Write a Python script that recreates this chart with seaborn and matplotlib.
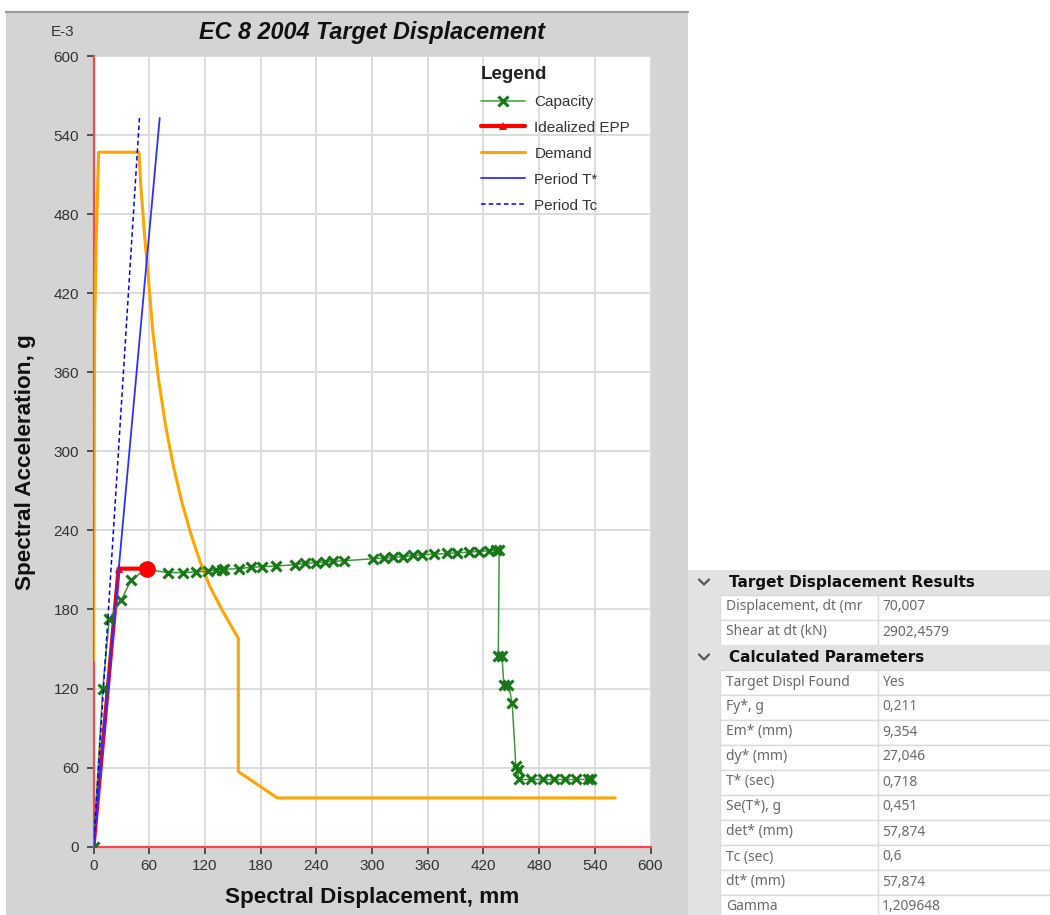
import matplotlib
matplotlib.use("Agg")
import matplotlib.pyplot as plt
import seaborn as sns
from matplotlib.patches import Rectangle
from matplotlib.lines import Line2D

# capacity curve: spectral displacement (mm) / spectral acceleration (E-3 g)
cap_sd = [0, 10, 17, 30, 40, 56, 80, 96, 110, 123, 132, 138, 141, 157, 170, 182, 197,
          217, 228, 240, 249, 258, 270, 301, 313, 323, 333, 344, 354, 367, 381, 392,
          404, 415, 426, 434, 437, 436, 440, 442, 447, 451, 455, 457, 458, 471, 484,
          496, 508, 520, 533, 536]
cap_sa = [0, 120, 173, 187, 202, 210.5, 208, 208, 208.5, 209, 210, 210, 210.5, 211, 212,
          212.5, 213, 214, 215, 215.5, 216, 216.5, 217, 218.5, 219, 219.5, 220, 221,
          221.5, 222, 222.5, 223, 223.5, 224, 224.5, 225, 225, 145, 145, 123, 123, 109,
          61, 58, 51, 51, 51, 51, 51, 51, 51, 51]

# idealized elasto-perfectly plastic curve
epp_sd = [0, 27.046, 57.874]
epp_sa = [0, 211, 211]

# demand spectrum (ADRS)
dem_sd = [0, 0.8, 1.3, 3, 4.5, 5.5, 49, 51, 55.5, 60.5, 64, 70, 78, 86, 95, 105, 115,
          125, 139, 156, 156, 198, 562]
dem_sa = [141, 300, 398, 462, 500, 527, 527, 501, 460, 420, 390, 355, 318, 289, 262,
          237, 216, 198, 179, 158, 57, 37, 37]

# period lines
tstar_sd = [0, 71.3]
tstar_sa = [0, 553]
tc_sd = [0, 49.5]
tc_sa = [0, 553]

ticks = list(range(0, 601, 60))

results_labels = ["Displacement, dt (mr", "Shear at dt (kN)"]
results_values = ["70,007", "2902,4579"]
params_labels = ["Target Displ Found", "Fy*, g", "Em* (mm)", "dy* (mm)", "T* (sec)",
                 "Se(T*), g", "det* (mm)", "Tc (sec)", "dt* (mm)", "Gamma"]
params_values = ["Yes", "0,211", "9,354", "27,046", "0,718", "0,451", "57,874", "0,6",
                 "57,874", "1,209648"]

sns.set_theme(style="whitegrid")
plt.rcParams['font.family'] = ['Liberation Sans', 'DejaVu Sans']

W, H = 1050, 915
fig = plt.figure(figsize=(W / 100, H / 100), dpi=100)
fig.patch.set_facecolor("white")

# background panel + table, in pixel coordinates
bg = fig.add_axes([0, 0, 1, 1])
bg.set_zorder(-1)
bg.set_xlim(0, W)
bg.set_ylim(H, 0)
bg.axis("off")
bg.add_patch(Rectangle((6, 11), 682, H - 11, fc="#d4d4d4", ec="none"))
bg.plot([6, 688], [11.5, 11.5], color="#9c9c9c", lw=1.6)

ax = fig.add_axes([93.5 / W, (H - 846.7) / H, 557 / W, 790.7 / H])
ax.set_facecolor("white")

sns.lineplot(x=dem_sd, y=dem_sa, sort=False, estimator=None, color="#ffa500",
             lw=2.2, label="Demand", ax=ax, zorder=3)
sns.lineplot(x=epp_sd, y=epp_sa, sort=False, estimator=None, color="#ff0000",
             lw=3, marker="^", markersize=6, markeredgewidth=0,
             label="Idealized EPP", ax=ax, zorder=4)
sns.lineplot(x=cap_sd, y=cap_sa, sort=False, estimator=None, color="#3c9c3c",
             lw=1.1, marker="x", markersize=7, markeredgewidth=2.2,
             markeredgecolor="#187818", label="Capacity", ax=ax, zorder=5)
sns.lineplot(x=tstar_sd, y=tstar_sa, sort=False, estimator=None, color="#2f2fff",
             lw=1.3, label="Period T*", ax=ax, zorder=6)
sns.lineplot(x=tc_sd, y=tc_sa, sort=False, estimator=None, color="#0000ff",
             lw=1.1, dashes=(3, 2), label="Period Tc", ax=ax, zorder=6)
ax.plot([epp_sd[-1]], [epp_sa[-1]], "o", color="#ff0000", markersize=11, zorder=7)

ax.set_xlim(0, 600)
ax.set_ylim(0, 600)
ax.set_xticks(ticks)
ax.set_yticks(ticks)
ax.grid(True, color="#dcdcdc", lw=1.4)
for s in ["top", "right"]:
    ax.spines[s].set_visible(False)
for s in ["left", "bottom"]:
    ax.spines[s].set_color("#ff4545")
    ax.spines[s].set_linewidth(1.6)
    ax.spines[s].set_zorder(2.5)
ax.tick_params(axis="both", length=5, width=1.3, color="#444444", labelsize=11,
               labelcolor="#333333", direction="out", left=True, bottom=True)
ax.tick_params(axis="y", pad=5.5)
ax.tick_params(axis="x", pad=4)

ax.set_xlabel("Spectral Displacement, mm", fontsize=16.2, fontweight="bold",
              color="#111111", va="center")
ax.set_ylabel("Spectral Acceleration, g", fontsize=16.2, fontweight="bold",
              color="#111111", va="center")
ax.xaxis.set_label_coords((372 - 93.5) / 557, -(897 - 846.7) / 790.7)
ax.yaxis.set_label_coords(-(93.5 - 26) / 557, (846.7 - 462) / 790.7)

fig.text(372 / W, 1 - 32 / H, "EC 8 2004 Target Displacement", ha="center",
         va="center", fontsize=16.8, fontweight="bold", fontstyle="italic",
         color="#111111")
fig.text(63 / W, 1 - 31.5 / H, "E-3", ha="center", va="center", fontsize=11,
         color="#333333")

handles, labels = ax.get_legend_handles_labels()
order = ["Capacity", "Idealized EPP", "Demand", "Period T*", "Period Tc"]
hmap = dict(zip(labels, handles))
leg = ax.legend([hmap[k] for k in order], order, title="Legend", frameon=False,
                loc="upper left",
                bbox_to_anchor=((481 - 93.5) / 557, 1 - (66 - 56) / 790.7),
                borderpad=0, borderaxespad=0, fontsize=11, handlelength=2.9,
                handletextpad=0.6, labelspacing=0.78, alignment="left",
                title_fontproperties={"weight": "bold", "size": 13.5})
for t in leg.get_texts():
    t.set_color("#333333")
leg.get_title().set_color("#222222")

# property table
row_h = 25.0
y = 569.5
def header(y, text):
    bg.add_patch(Rectangle((688, y), W - 688, row_h, fc="#e2e2e2", ec="none"))
    bg.add_line(Line2D([699, 704, 709], [y + row_h / 2 - 2.5, y + row_h / 2 + 2.5,
                                        y + row_h / 2 - 2.5], color="#555555", lw=1.6))
    bg.text(729, y + row_h / 2 + 0.5, text, ha="left", va="center", fontsize=11,
            fontweight="bold", color="#111111", family=["DejaVu Sans"])

def row(y, label, value):
    bg.add_patch(Rectangle((688, y), 32, row_h, fc="#e2e2e2", ec="none"))
    bg.add_patch(Rectangle((720, y), 158, row_h, fc="white", ec="#dadada", lw=1))
    bg.add_patch(Rectangle((878, y), W - 878, row_h, fc="white", ec="#dadada", lw=1))
    bg.text(726, y + row_h / 2, label, ha="left", va="center", fontsize=10,
            color="#6a6a6a", family=["Noto Sans", "DejaVu Sans"])
    bg.text(882, y + row_h / 2, value, ha="left", va="center", fontsize=10,
            color="#6a6a6a", family=["Noto Sans", "DejaVu Sans"])

header(y, "Target Displacement Results")
y += row_h
for lab, val in zip(results_labels, results_values):
    row(y, lab, val)
    y += row_h
header(y, "Calculated Parameters")
y += row_h
for lab, val in zip(params_labels, params_values):
    row(y, lab, val)
    y += row_h

fig.savefig("out.png", dpi=100)
